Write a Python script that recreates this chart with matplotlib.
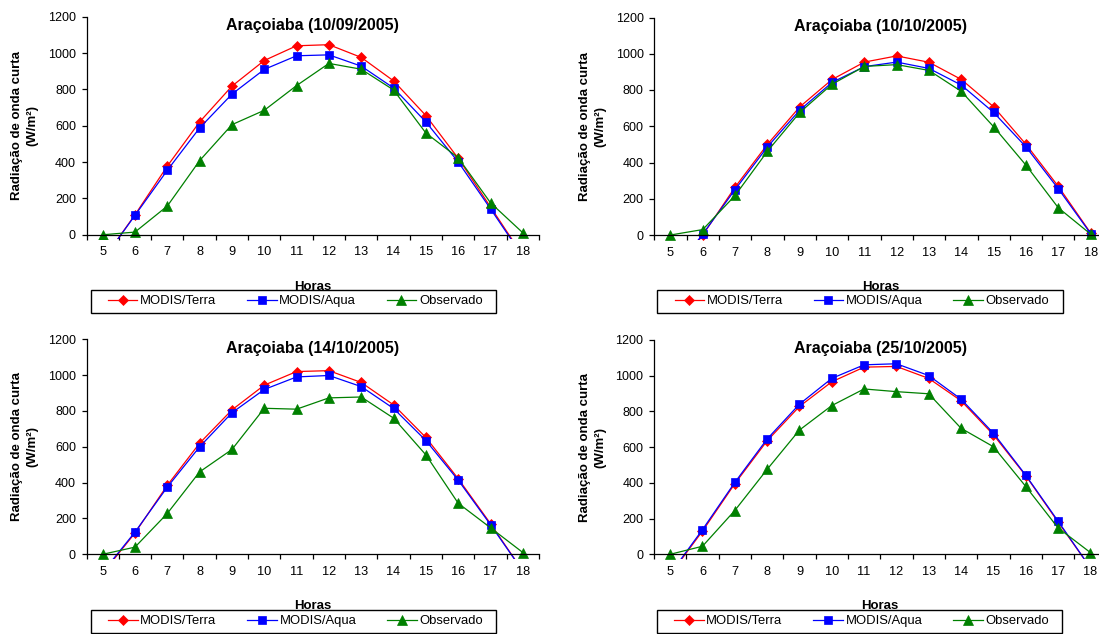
import matplotlib
matplotlib.use("Agg")
import matplotlib.pyplot as plt
from matplotlib.patches import Rectangle

plt.rcParams['font.family'] = ['Liberation Sans', 'DejaVu Sans']

# ---------------- data ----------------
horas = [5, 6, 7, 8, 9, 10, 11, 12, 13, 14, 15, 16, 17, 18]
series_names = ["MODIS/Terra", "MODIS/Aqua", "Observado"]
titles = ["Araçoiaba (10/09/2005)", "Araçoiaba (10/10/2005)",
          "Araçoiaba (14/10/2005)", "Araçoiaba (25/10/2005)"]

terra_1009 = [-140, 110, 378, 621, 818, 959, 1040, 1046, 976, 847, 656, 421, 153, -115]
aqua_1009 = [-140, 107, 355, 588, 774, 910, 985, 990, 928, 808, 621, 401, 143, -120]
obs_1009 = [0, 15, 158, 408, 606, 685, 821, 943, 911, 797, 560, 424, 176, 11]

terra_1010 = [-240, 0, 264, 500, 707, 858, 954, 988, 953, 858, 707, 500, 268, 11]
aqua_1010 = [-225, 5, 251, 486, 689, 842, 929, 954, 919, 827, 676, 486, 255, 8]
obs_1010 = [0, 30, 218, 462, 676, 832, 930, 940, 908, 792, 597, 385, 150, 5]

terra_1410 = [-106, 119, 385, 620, 806, 944, 1020, 1025, 959, 834, 652, 422, 171, -94]
aqua_1410 = [-100, 124, 375, 600, 790, 920, 990, 998, 936, 814, 635, 414, 165, -94]
obs_1410 = [0, 40, 228, 460, 585, 815, 810, 873, 878, 760, 555, 285, 148, 10]

terra_2510 = [-114, 130, 395, 635, 827, 965, 1047, 1051, 984, 859, 669, 440, 181, -75]
aqua_2510 = [-110, 138, 402, 645, 840, 984, 1060, 1066, 1000, 868, 678, 443, 186, -75]
obs_2510 = [0, 45, 245, 475, 695, 832, 925, 910, 898, 705, 602, 380, 148, 10]

panels = [
    (terra_1009, aqua_1009, obs_1009),
    (terra_1010, aqua_1010, obs_1010),
    (terra_1410, aqua_1410, obs_1410),
    (terra_2510, aqua_2510, obs_2510),
]
yticks = [0, 200, 400, 600, 800, 1000, 1200]

# ---------------- styles ----------------
styles = [
    dict(color='#FF0000', marker='D', ms=5.2, mec='#FF0000', mfc='#FF0000'),
    dict(color='#0000FF', marker='s', ms=5.8, mec='#0000FF', mfc='#0000FF'),
    dict(color='#008000', marker='^', ms=7.4, mec='#008000', mfc='#008000'),
]

W, H = 1099, 634
fig = plt.figure(figsize=(W / 100, H / 100), dpi=100)


def fx(px):
    return px / W


def fy(py):
    return 1 - py / H


# (left, right, y1200 px, y0 px)
layout = [
    (86.5, 539.0, 16.7, 234.8),
    (654.3, 1106.8, 17.5, 235.0),
    (86.5, 539.0, 339.3, 554.3),
    (654.0, 1106.5, 339.8, 554.3),
]
legend_boxes = [
    (90.7, 496.0, 290.0, 312.7, 107.7),
    (657.5, 1062.5, 290.0, 312.7, 674.5),
    (91.0, 496.0, 610.0, 632.7, 108.0),
    (656.7, 1062.0, 610.0, 632.7, 674.0),
]
ylabel_x = [24.5, 593, 24.5, 593]

YMIN = -25
for i, (left, right, ytop, yzero) in enumerate(layout):
    per = (yzero - ytop) / 1200.0
    ybot = yzero - YMIN * per
    ax = fig.add_axes([fx(left), fy(ybot), (right - left) / W, (ybot - ytop) / H])
    ax.set_facecolor('none')
    lines = []
    for vals, st, name in zip(panels[i], styles, series_names):
        ln, = ax.plot(horas, vals, lw=0.9, mew=0.5, label=name, **st)
        lines.append(ln)
    ax.set_xlim(4.5, 18.5)
    ax.set_ylim(YMIN, 1200)
    for s in ['top', 'right']:
        ax.spines[s].set_visible(False)
    ax.spines['bottom'].set_position(('data', 0))
    ax.spines['left'].set_bounds(0, 1200)
    for s in ['bottom', 'left']:
        ax.spines[s].set_linewidth(0.9)
        ax.spines[s].set_color('black')
    ax.set_yticks(yticks)
    ax.set_yticklabels([str(v) for v in yticks])
    ax.tick_params(axis='y', direction='out', length=3.6, width=0.9, pad=4,
                   labelsize=9, colors='black')
    ax.set_xticks([h - 0.5 for h in horas] + [18.5])
    ax.set_xticklabels([])
    ax.set_xticks(horas, minor=True)
    ax.set_xticklabels([str(h) for h in horas], minor=True)
    ax.tick_params(axis='x', which='major', direction='out', length=3.4, width=0.9)
    ax.tick_params(axis='x', which='minor', length=0, pad=8.3, labelsize=9.2,
                   colors='black')

    # title and axis label text
    ax.text(11.5, 1200 - (13.3 / per), titles[i], ha='center', va='baseline',
            fontsize=11.5, fontweight='bold')
    ax.text(11.5, -(54.7 / per), "Horas", ha='center', va='baseline',
            fontsize=9.5, fontweight='bold', clip_on=False)
    fig.text(fx(ylabel_x[i]), fy((ytop + yzero) / 2), "Radiação de onda curta\n(W/m²)",
             rotation=90, ha='center', va='center', multialignment='center',
             fontsize=9.5, fontweight='bold', linespacing=1.4)

    # legend
    lx0, lx1, ly0, ly1, hx = legend_boxes[i]
    fig.add_artist(Rectangle((fx(lx0), fy(ly1)), (lx1 - lx0) / W, (ly1 - ly0) / H,
                             transform=fig.transFigure, fill=False,
                             edgecolor='black', linewidth=1.0))
    fig.legend(handles=lines, loc='center left',
               bbox_to_anchor=(fx(hx), fy((ly0 + ly1) / 2)),
               ncol=3, frameon=False, borderpad=0, borderaxespad=0,
               handlelength=2.27, handletextpad=0.2, columnspacing=2.35,
               fontsize=9.4)

fig.savefig("out.png", dpi=100)
